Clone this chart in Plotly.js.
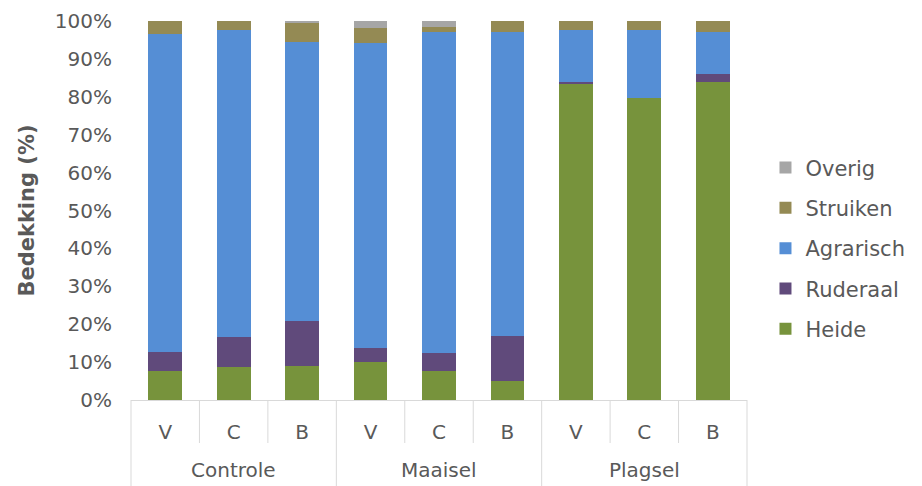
<!DOCTYPE html>
<html>
<head>
<meta charset="utf-8">
<script src="https://cdn.plot.ly/plotly-3.0.1.min.js"></script>
<style>html,body{margin:0;padding:0;background:#fff;}#chart{width:922px;height:486px;}</style>
</head>
<body>
<div id="chart"></div>
<script>
const groups = ["Controle","Controle","Controle","Maaisel","Maaisel","Maaisel","Plagsel","Plagsel","Plagsel"];
const subs = ["V","C","B","V","C","B","V","C","B"];
const heide = [7.7, 8.6, 9.0, 10.1, 7.6, 5.1, 83.5, 79.8, 83.9];
const ruderaal = [5.0, 8.0, 11.8, 3.5, 4.7, 11.7, 0.4, 0, 2.1];
const agrarisch = [84.0, 80.9, 73.7, 80.5, 84.7, 80.2, 13.7, 17.8, 11.0];
const struiken = [3.3, 2.5, 4.9, 4.0, 1.5, 3.0, 2.4, 2.4, 3.0];
const overig = [0, 0, 0.6, 1.9, 1.5, 0, 0, 0, 0];
const yTicks = [0,10,20,30,40,50,60,70,80,90,100];
const yTickText = yTicks.map(v => v + "%");

// unique category keys built from group + sub
const keys = groups.map((g, i) => g + "|" + subs[i]);

const series = [
  {name:"Heide", y:heide, color:"#77933C"},
  {name:"Ruderaal", y:ruderaal, color:"#604A7B"},
  {name:"Agrarisch", y:agrarisch, color:"#558ED5"},
  {name:"Struiken", y:struiken, color:"#948A54"},
  {name:"Overig", y:overig, color:"#A6A6A6"}
];

const traces = series.map((s, i) => ({
  type:"bar",
  name:s.name,
  x:keys,
  y:s.y,
  legendgroup:s.name,
  legendrank: series.length - i,
  marker:{color:s.color, line:{width:0}},
  hoverinfo:"skip"
}));

const font = "DejaVu Sans, Verdana, sans-serif";
const grey = "#595959";
const lineGrey = "#D9D9D9";

const plotH = 486 - 21 - 86;
const n = keys.length;
const shapes = [];
const annotations = [];
// dividers
for (let k = 0; k <= n; k++) {
  const isGroupEdge = (k === 0 || k === n || groups[k] !== groups[k-1]);
  shapes.push({
    type:"line", xref:"paper", yref:"paper",
    x0:k/n, x1:k/n, y0:0,
    y1: isGroupEdge ? -86/plotH : -43/plotH,
    line:{color:lineGrey, width:1}
  });
}
// group labels
let start = 0;
for (let k = 1; k <= n; k++) {
  if (k === n || groups[k] !== groups[start]) {
    annotations.push({
      xref:"paper", yref:"paper",
      x:(start + k) / 2 / n, y:-70/plotH,
      xanchor:"center", yanchor:"middle",
      text:groups[start], showarrow:false,
      font:{family:font, size:20, color:grey}
    });
    start = k;
  }
}

const layout = {
  width:922, height:486,
  margin:{l:131, r:171, t:21, b:86},
  paper_bgcolor:"#fff", plot_bgcolor:"#fff",
  barmode:"stack",
  bargap:0.507,
  font:{family:font, color:grey, size:20},
  xaxis:{
    type:"category",
    tickvals:keys, ticktext:subs,
    showline:true, linecolor:lineGrey, linewidth:1,
    showgrid:false, ticks:"",
    ticklabelstandoff:14,
    tickfont:{family:font, size:20, color:grey},
    range:[-0.5, n - 0.5]
  },
  yaxis:{
    range:[0,100], tickvals:yTicks, ticktext:yTickText,
    showgrid:false, showline:false, zeroline:false, ticks:"",
    ticklabelstandoff:18,
    tickfont:{family:font, size:20, color:grey},
    title:{text:"<b>Bedekking (%)</b>", font:{family:font, size:21, color:grey}, standoff:14}
  },
  legend:{
    x:1.03, xanchor:"left", y:0.40, yanchor:"middle",
    traceorder:"grouped",
    tracegroupgap:10,
    font:{family:font, size:21, color:grey},
    itemwidth:30
  },
  shapes:shapes,
  annotations:annotations,
  showlegend:true
};

Plotly.newPlot("chart", traces, layout, {staticPlot:true, displayModeBar:false});
</script>
</body>
</html>
